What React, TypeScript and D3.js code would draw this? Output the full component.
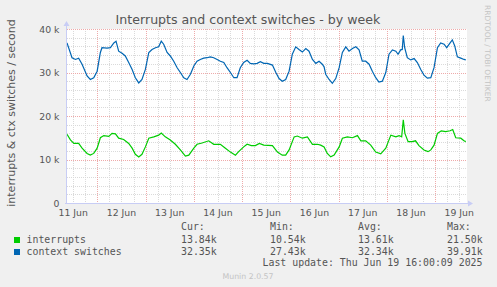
import React from 'react';
import * as d3 from 'd3';

// ---- data (hours since 11 Jun 00:00, values in thousands/second) ----
const ctxHours = [8.9, 11.4, 13.1, 14.7, 16.4, 18.9, 20.5, 22.2, 23.9, 25.5, 26.3, 28.8, 30.5, 32.2, 33.3, 34.6, 36.3, 37.9, 39.6, 41.3, 42.9, 44.6, 46.2, 47.9, 49.6, 51.2, 52.9, 54.5, 55.8, 57.0, 58.7, 60.3, 62.0, 63.7, 65.3, 67.0, 68.6, 70.3, 72.0, 73.6, 75.2, 76.9, 78.6, 80.2, 81.9, 83.6, 85.2, 86.9, 88.5, 90.2, 91.9, 93.5, 95.1, 96.8, 98.5, 100.1, 101.8, 103.5, 105.1, 106.8, 108.6, 111.1, 112.8, 114.4, 116.0, 117.7, 119.4, 121.0, 122.7, 124.3, 126.0, 127.7, 129.3, 131.0, 132.7, 134.3, 135.9, 136.8, 137.6, 139.3, 140.9, 142.6, 144.3, 145.9, 147.6, 149.2, 150.9, 152.6, 154.2, 155.8, 157.5, 159.2, 160.8, 162.5, 164.1, 165.8, 167.5, 169.1, 170.8, 172.5, 173.6, 174.9, 175.7, 176.2, 176.9, 178.2, 179.9, 181.6, 183.2, 184.9, 186.5, 188.2, 189.9, 191.5, 193.2, 194.8, 196.5, 197.8, 199.5, 200.6, 201.8, 203.1, 204.8, 206.4, 207.3];
const ctxValues = [36.8, 33.4, 33.0, 33.3, 31.9, 29.2, 28.4, 28.8, 30.3, 34.6, 35.7, 35.6, 35.7, 36.8, 37.2, 34.9, 34.4, 33.8, 32.3, 30.7, 28.8, 27.6, 28.4, 30.7, 34.6, 35.3, 35.7, 35.9, 37.2, 36.5, 34.6, 33.8, 32.6, 31.1, 30.0, 28.8, 28.4, 29.6, 31.5, 32.6, 33.0, 33.3, 33.4, 33.6, 33.4, 33.0, 32.6, 32.3, 31.1, 30.0, 28.8, 28.8, 31.1, 32.3, 32.8, 32.1, 32.0, 32.1, 32.5, 32.1, 32.1, 31.7, 30.0, 28.6, 28.0, 28.4, 30.3, 34.2, 35.9, 35.3, 34.7, 35.5, 34.9, 33.0, 32.1, 32.6, 31.9, 31.3, 29.6, 28.4, 27.5, 28.6, 31.1, 34.6, 35.9, 34.9, 35.5, 35.9, 35.2, 32.6, 32.6, 31.9, 30.3, 28.8, 27.8, 28.0, 30.0, 34.2, 35.2, 34.9, 34.2, 35.2, 35.3, 38.5, 35.7, 33.4, 32.9, 33.2, 32.3, 30.7, 29.4, 28.7, 28.8, 31.1, 35.7, 36.8, 36.5, 35.7, 36.8, 37.5, 36.1, 33.6, 33.3, 33.0, 32.9];

const intHours = [8.9, 10.6, 12.3, 14.7, 16.4, 18.9, 20.5, 22.2, 23.9, 25.5, 27.2, 29.7, 31.3, 33.0, 34.6, 37.1, 39.6, 41.3, 42.9, 44.6, 46.2, 47.9, 49.6, 52.1, 54.5, 55.8, 57.8, 60.3, 62.8, 65.3, 67.8, 69.5, 72.0, 73.6, 76.1, 79.4, 81.9, 85.2, 87.7, 90.2, 92.7, 94.3, 96.8, 98.5, 100.6, 102.6, 104.6, 106.8, 111.1, 113.6, 116.0, 117.7, 119.4, 121.9, 123.5, 126.0, 128.5, 131.0, 133.5, 135.1, 136.8, 138.4, 140.1, 141.8, 144.3, 145.9, 148.4, 150.9, 153.4, 155.1, 157.5, 160.0, 162.5, 165.0, 167.5, 170.0, 172.5, 174.1, 175.4, 176.2, 177.0, 178.6, 180.6, 182.3, 184.0, 186.5, 188.5, 189.9, 191.5, 193.2, 195.1, 197.3, 199.5, 200.8, 202.3, 204.8, 206.4, 207.3];
const intValues = [15.8, 14.5, 13.7, 13.7, 12.6, 11.4, 11.0, 11.4, 12.6, 15.0, 15.5, 15.3, 16.0, 15.9, 14.9, 14.6, 13.7, 12.6, 11.2, 10.6, 11.2, 12.9, 14.9, 15.2, 15.6, 16.1, 15.2, 14.5, 13.5, 12.2, 10.8, 11.0, 12.6, 13.5, 13.8, 14.3, 13.5, 13.5, 12.6, 11.7, 11.0, 11.8, 12.9, 13.5, 13.2, 13.2, 13.7, 13.3, 13.2, 11.7, 11.0, 11.0, 12.2, 15.2, 15.4, 14.9, 15.2, 13.5, 13.5, 13.3, 12.9, 11.4, 10.6, 11.0, 12.9, 14.9, 15.2, 15.0, 15.5, 14.3, 14.3, 13.3, 11.7, 11.3, 12.6, 15.6, 15.2, 15.5, 15.2, 19.1, 16.0, 14.1, 14.1, 14.3, 13.2, 12.2, 11.8, 12.2, 13.3, 16.0, 16.6, 16.4, 16.6, 16.9, 15.0, 14.9, 14.3, 14.1];

const dayLabels = ['11 Jun', '12 Jun', '13 Jun', '14 Jun', '15 Jun', '16 Jun', '17 Jun', '18 Jun', '19 Jun'];
const yTickValues = [0, 10, 20, 30, 40];
const yTickLabels = ['0', '10 k', '20 k', '30 k', '40 k'];
const legendHeaders = ['Cur:', 'Min:', 'Avg:', 'Max:'];
const seriesNames = ['interrupts', 'context switches'];
const interruptsStats = ['13.84k', '10.54k', '13.61k', '21.50k'];
const ctxStats = ['32.35k', '27.43k', '32.34k', '39.91k'];

const W = 497;
const H = 287;
const PL = 67, PR = 467, PT = 29, PB = 203;
const GREEN = '#00cc00';
const BLUE = '#0066b3';
const TXT = '#555555';
const SANS = '"DejaVu Sans", sans-serif';
const MONO = '"DejaVu Sans Mono", monospace';

export default function App() {
  const x = d3.scaleLinear().domain([8.9, 207.9]).range([PL, PR]);
  const y = d3.scaleLinear().domain([0, 40]).range([PB, PT]);

  const line = d3.line<[number, number]>().x(d => x(d[0])).y(d => y(d[1]));
  const ctx: [number, number][] = ctxHours.map((h, i) => [h, ctxValues[i]]);
  const ints: [number, number][] = intHours.map((h, i) => [h, intValues[i]]);

  const minorX: number[] = [];
  for (let h = 12; h <= 207.9; h += 6) if (h % 24 !== 0) minorX.push(h);
  const majorX: number[] = [];
  for (let h = 24; h <= 207.9; h += 24) majorX.push(h);
  const minorY: number[] = [];
  for (let v = 2; v < 40; v += 2) if (v % 10 !== 0) minorY.push(v);

  const colX = [181, 270, 358, 447];
  const stats = [interruptsStats, ctxStats];
  const colors = [GREEN, BLUE];

  return (
    <svg width={W} height={H} style={{ position: 'absolute', left: 0, top: 0 }}>
      <rect x={0} y={0} width={W} height={H} fill="#f0f0f0" />
      <rect x={PL} y={PT} width={PR - PL} height={PB - PT} fill="#ffffff" />

      {minorX.map(h => (
        <line key={'mx' + h} x1={Math.round(x(h)) + 0.5} x2={Math.round(x(h)) + 0.5} y1={PT} y2={PB}
          stroke="#dadada" strokeDasharray="1,1" />
      ))}
      {minorY.map(v => (
        <line key={'my' + v} x1={PL} x2={PR} y1={Math.round(y(v)) + 0.5} y2={Math.round(y(v)) + 0.5}
          stroke="#dadada" strokeDasharray="1,1" />
      ))}
      {majorX.map(h => (
        <line key={'Mx' + h} x1={Math.round(x(h)) + 0.5} x2={Math.round(x(h)) + 0.5} y1={PT} y2={PB}
          stroke="#eeaaaa" strokeDasharray="1,1" />
      ))}
      {yTickValues.filter(v => v > 0).map(v => (
        <line key={'My' + v} x1={PL} x2={PR} y1={Math.round(y(v)) + 0.5} y2={Math.round(y(v)) + 0.5}
          stroke="#eeaaaa" strokeDasharray="1,1" />
      ))}

      <path d={line(ints) || ''} fill="none" stroke={GREEN} strokeWidth={1.2} />
      <path d={line(ctx) || ''} fill="none" stroke={BLUE} strokeWidth={1.2} />

      {/* axes */}
      <line x1={PL - 0.5} x2={PL - 0.5} y1={PB + 1} y2={PT - 4} stroke="#c8cdf5" />
      <path d={`M${PL - 3.5},${PT - 3} L${PL + 2.5},${PT - 3} L${PL - 0.5},${PT - 8} Z`} fill="#c8cdf5" />
      <line x1={PL - 2} x2={PR + 2} y1={PB + 0.5} y2={PB + 0.5} stroke="#c8cdf5" />
      <path d={`M${PR + 1},${PB - 2.5} L${PR + 1},${PB + 3.5} L${PR + 6},${PB + 0.5} Z`} fill="#c8cdf5" />

      {/* y tick labels */}
      {yTickValues.map((v, i) => (
        <text key={'yl' + v} x={59.5} y={y(v) + 3.5} textAnchor="end" fontFamily={SANS} fontSize={9.3} fill={TXT}>
          {yTickLabels[i]}
        </text>
      ))}
      {/* x tick labels */}
      {dayLabels.map((d, i) => (
        <text key={d} x={x(12 + 24 * i)} y={216} textAnchor="middle" fontFamily={SANS} fontSize={9.3} fill={TXT}>
          {d}
        </text>
      ))}

      <text x={248} y={24} textAnchor="middle" fontFamily={SANS} fontSize={12.6} fill={TXT}>
        Interrupts and context switches - by week
      </text>
      <text transform="translate(15,113) rotate(-90)" textAnchor="middle" fontFamily={SANS} fontSize={11} fill={TXT}>
        interrupts &amp; ctx switches / second
      </text>
      <text transform="translate(485,5) rotate(90)" textAnchor="start" fontFamily={SANS} fontSize={7.5} fill="#c4c4c4">
        RRDTOOL / TOBI OETIKER
      </text>

      {/* legend */}
      {legendHeaders.map((hd, i) => (
        <text key={hd} x={colX[i]} y={230} fontFamily={MONO} fontSize={9.9} fill={TXT}>{hd}</text>
      ))}
      {seriesNames.map((n, r) => (
        <g key={n}>
          <rect x={14} y={237 + r * 12} width={6} height={6} fill={colors[r]} />
          <text x={26.5} y={243 + r * 11.5} fontFamily={MONO} fontSize={9.9} fill={TXT}>{n}</text>
          {stats[r].map((s, i) => (
            <text key={i} x={colX[i]} y={243 + r * 11.5} fontFamily={MONO} fontSize={9.9} fill={TXT}>{s}</text>
          ))}
        </g>
      ))}
      <text x={482.5} y={266} textAnchor="end" fontFamily={MONO} fontSize={9.9} fill={TXT}>
        Last update: Thu Jun 19 16:00:09 2025
      </text>
      <text x={248} y={279} textAnchor="middle" fontFamily={SANS} fontSize={7.8} fill="#c4c4c4">
        Munin 2.0.57
      </text>
    </svg>
  );
}
